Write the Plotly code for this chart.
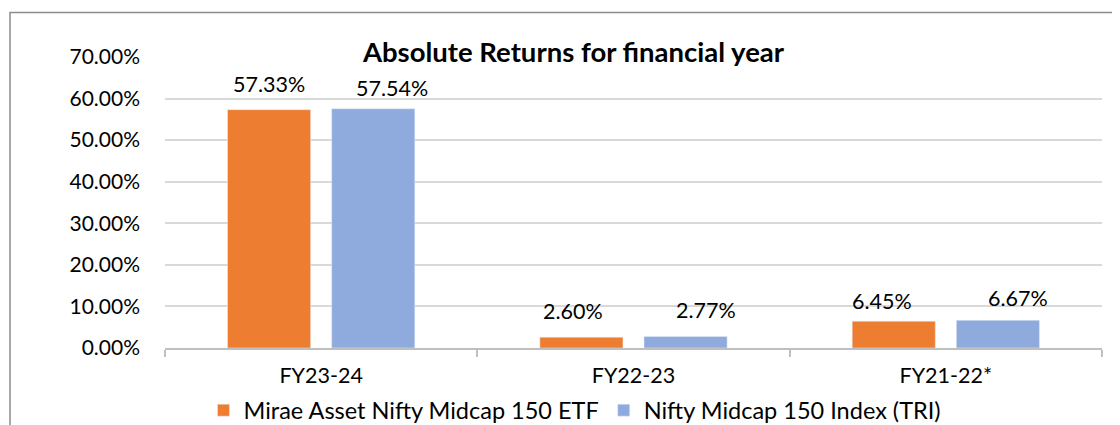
import plotly.graph_objects as go

categories = ["FY23-24", "FY22-23", "FY21-22*"]
etf_name = "Mirae Asset Nifty Midcap 150 ETF"
tri_name = "Nifty Midcap 150 Index (TRI)"
etf_values = [57.33, 2.60, 6.45]
tri_values = [57.54, 2.77, 6.67]
title_text = "Absolute Returns for financial year"

ORANGE = "#ED7D31"
BLUE = "#8FAADC"
FONT = "Lato"

# page has an 8px body margin; work in page coords and subtract it
OFF = 8
W, H = 1120 - OFF, 425 - OFF
PL, PR, PT, PB = 165, 1102, 57, 348.5  # plot box in page coords
L, R, T, B = PL - OFF, W - (PR - OFF), PT - OFF, H - (PB - OFF)
pw, ph = W - L - R, H - T - B


def px(x):
    return (x - OFF - L) / pw


def py(y):
    return (H - B - (y - OFF)) / ph


fig = go.Figure()
fig.add_trace(go.Bar(x=categories, y=etf_values, name=etf_name, marker_color=ORANGE))
fig.add_trace(go.Bar(x=categories, y=tri_values, name=tri_name, marker_color=BLUE))

# data labels (slightly offset like the original Excel chart)
etf_dx = [0, -9, -12]
tri_dx = [19, 20, 20]
etf_dy = [0, 0, -6]
tri_dy = [-5, 0, -4]
slot = 52
for i, c in enumerate(categories):
    fig.add_annotation(x=c, y=etf_values[i], text=f"{etf_values[i]:.2f}%", showarrow=False,
                       xshift=-slot + etf_dx[i], yshift=26 + etf_dy[i], yanchor="middle",
                       font=dict(family=FONT, size=21.5, color="#000"))
    fig.add_annotation(x=c, y=tri_values[i], text=f"{tri_values[i]:.2f}%", showarrow=False,
                       xshift=slot + tri_dx[i], yshift=26 + tri_dy[i], yanchor="middle",
                       font=dict(family=FONT, size=21.5, color="#000"))

# outer chart border
fig.add_shape(type="rect", xref="paper", yref="paper",
              x0=px(10), x1=px(1130), y0=py(440), y1=py(12.5),
              line=dict(color="#8C8C8C", width=1.5), fillcolor="rgba(0,0,0,0)", layer="below")

fig.update_layout(
    width=W, height=H,
    margin=dict(l=L, r=R, t=T, b=B, autoexpand=False),
    paper_bgcolor="white", plot_bgcolor="white",
    barmode="group", bargap=0.333, bargroupgap=0.202,
    font=dict(family=FONT, size=21, color="#000"),
    title=dict(text=f"<b>{title_text}</b>", x=px(573.5), xref="paper", xanchor="center",
               y=1 - (52 - OFF) / H, yref="container", yanchor="middle",
               font=dict(family=FONT, size=27.5, color="#000")),
    legend=dict(orientation="h", x=px(575), xanchor="center", y=py(411), yanchor="middle",
                font=dict(family=FONT, size=23.5, color="#000"), itemwidth=30,
                bgcolor="rgba(0,0,0,0)", traceorder="normal"),
    showlegend=True,
)
fig.update_xaxes(type="category", showline=True, linecolor="#BFBFBF", linewidth=1.5,
                 ticks="outside", tickson="boundaries", ticklen=7, tickcolor="#BFBFBF", tickwidth=1.5,
                 showgrid=False, tickfont=dict(family=FONT, size=21.5, color="#000"),
                 ticklabelstandoff=7, automargin=False)
fig.update_yaxes(range=[0, 70], dtick=10, tickformat=".2f", ticksuffix="%",
                 showgrid=True, gridcolor="#D9D9D9", gridwidth=1.5, zeroline=False,
                 showline=False, ticks="", ticklabelstandoff=24, automargin=False,
                 tickfont=dict(family=FONT, size=21, color="#000"))

fig.write_html("out.html")
